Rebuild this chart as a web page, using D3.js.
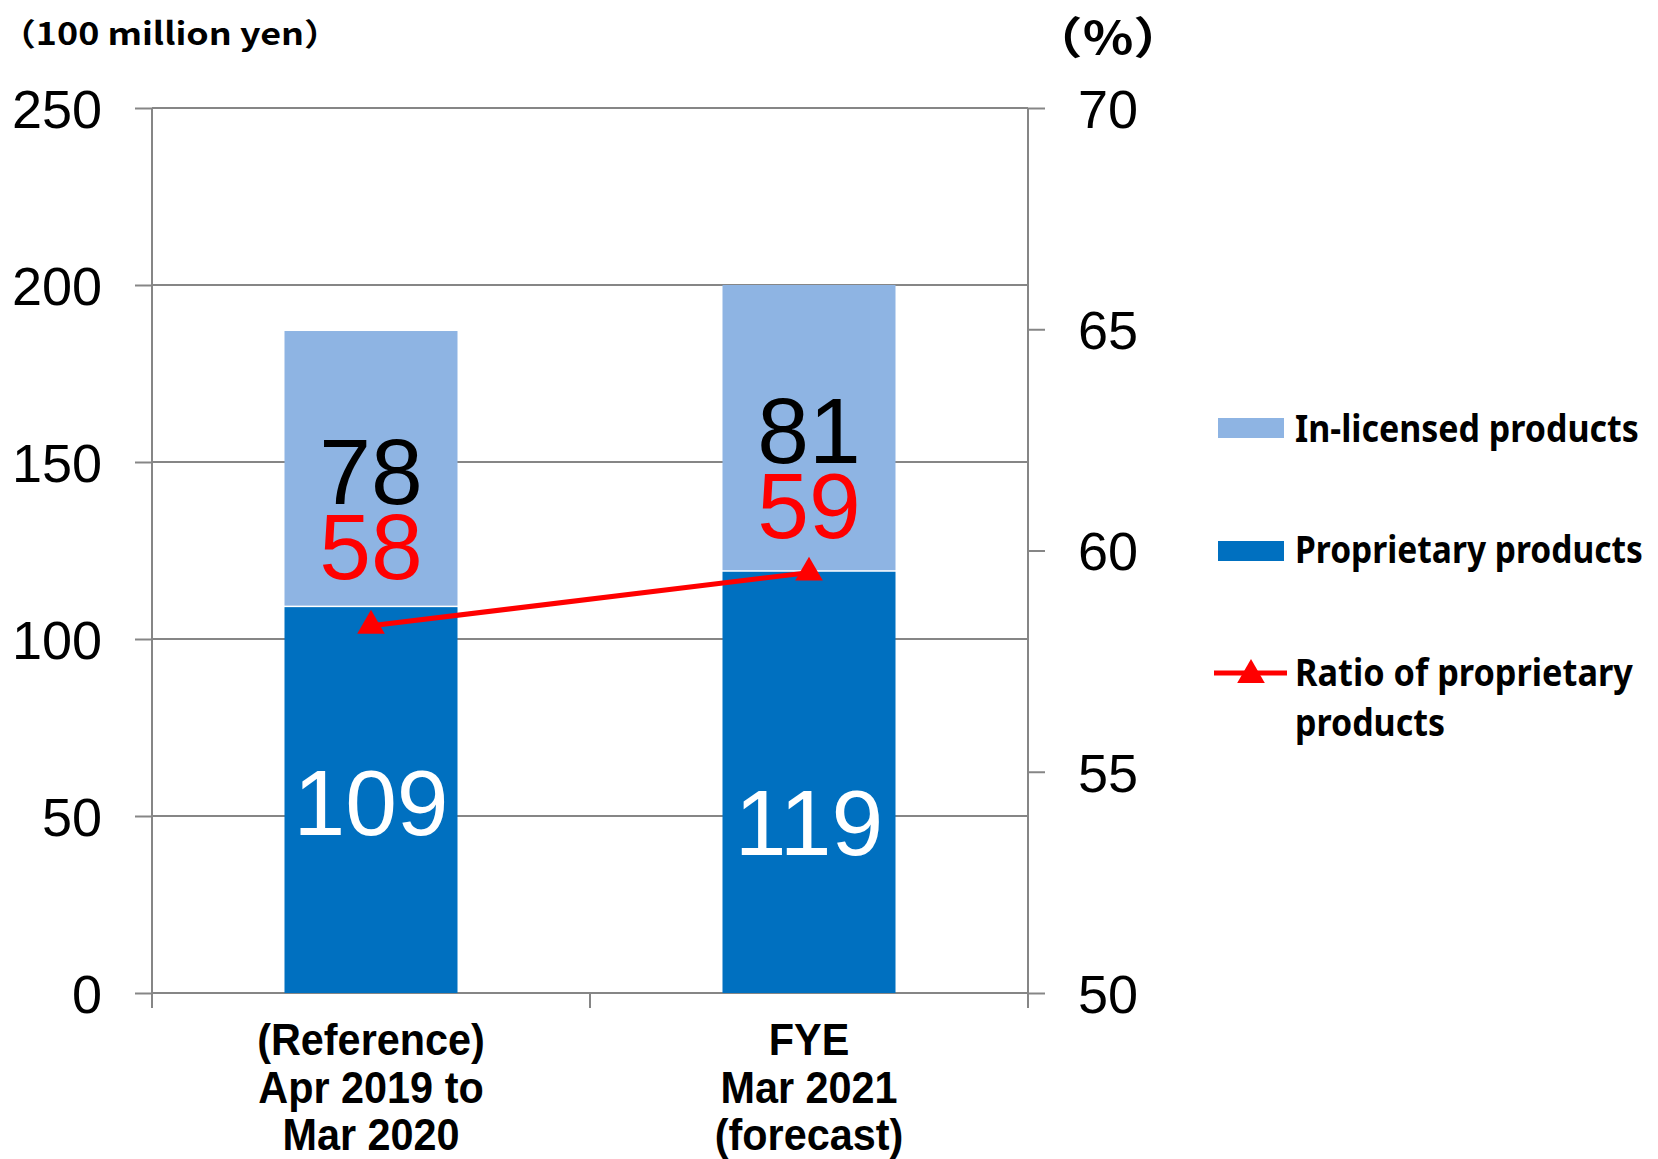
<!DOCTYPE html>
<html><head><meta charset="utf-8">
<script src="https://cdn.jsdelivr.net/npm/d3@7"></script>
<style>
html,body{margin:0;padding:0;background:#fff;}
svg{display:block;}
</style>
</head><body>
<svg id="chart" width="1658" height="1159"></svg>
<script>
// ---- data ----
const categories = ["ref", "fye"];
const categoryLines = [["(Reference)", "Apr 2019 to", "Mar 2020"], ["FYE", "Mar 2021", "(forecast)"]];
const proprietary = [109, 119];
const inLicensed = [78, 81];
const ratio = [58.3, 59.5];
const ratioLabels = ["58", "59"];
const leftTicks = [0, 50, 100, 150, 200, 250];
const rightTicks = [50, 55, 60, 65, 70];
const legendLabels = ["In-licensed products", "Proprietary products", ["Ratio of proprietary", "products"]];
const leftUnit = "（100 million yen）";
const rightUnit = "（%）";

// ---- layout ----
const W = 1658, H = 1159;
const L = 152, R = 1028, T = 108, B = 993;
const C_DARK = "#0070C0", C_LIGHT = "#8EB4E3", C_RED = "#FF0000", C_GRID = "#868686";
const innerLabelDy = [0, 38];
const catBaselines = [1055, 1103, 1150];

const svg = d3.select("#chart");

const x = d3.scaleBand().domain(categories).range([L, R]).paddingInner(0.605).paddingOuter(0.3025);
const y = d3.scaleLinear().domain([0, 250]).range([B, T]);
const y2 = d3.scaleLinear().domain([50, 70]).range([B, T]);

// gridlines
svg.append("g").selectAll("line").data(leftTicks).join("line")
  .attr("x1", L).attr("x2", R).attr("y1", d => y(d)).attr("y2", d => y(d))
  .attr("stroke", C_GRID).attr("stroke-width", 2);

// bars
const rows = categories.map((c, i) => ({c, p: proprietary[i], l: inLicensed[i], r: ratio[i], rl: ratioLabels[i], i}));
const bars = svg.append("g");
bars.selectAll("rect.dark").data(rows).join("rect").attr("class", "dark")
  .attr("x", d => x(d.c)).attr("width", x.bandwidth())
  .attr("y", d => y(d.p)).attr("height", d => y(0) - y(d.p))
  .attr("fill", C_DARK);
bars.selectAll("rect.light").data(rows).join("rect").attr("class", "light")
  .attr("x", d => x(d.c)).attr("width", x.bandwidth())
  .attr("y", d => y(d.p + d.l)).attr("height", d => y(d.p) - y(d.p + d.l) - 1.5)
  .attr("fill", C_LIGHT);

// axes
const axL = d3.axisLeft(y).tickValues(leftTicks).tickSize(17).tickSizeOuter(0).tickPadding(33);
const gL = svg.append("g").attr("transform", `translate(${L},0)`).call(axL);
const axR = d3.axisRight(y2).tickValues(rightTicks).tickSize(17).tickSizeOuter(0).tickPadding(33);
const gR = svg.append("g").attr("transform", `translate(${R},0)`).call(axR);
[gL, gR].forEach(g => {
  g.select(".domain").remove();
  g.selectAll(".tick line").attr("stroke", C_GRID).attr("stroke-width", 2);
  g.selectAll(".tick text").attr("fill", "#000")
    .style("font-family", "'Liberation Sans', Arial, sans-serif").style("font-size", "54px")
    .attr("dy", "0.36em");
});
// vertical axis lines
[L, R].forEach(xx => svg.append("line").attr("x1", xx).attr("x2", xx).attr("y1", T).attr("y2", B + 15)
  .attr("stroke", C_GRID).attr("stroke-width", 2));
// category boundary ticks
const bounds = [L].concat(categories.map(c => x(c) - x.step() * x.paddingInner() / 2 + x.step()));
svg.append("g").selectAll("line").data(bounds).join("line")
  .attr("x1", d => d).attr("x2", d => d).attr("y1", B).attr("y2", B + 15)
  .attr("stroke", C_GRID).attr("stroke-width", 2);

// category labels
const cl = svg.append("g").style("font-family", "'Liberation Sans', Arial, sans-serif")
  .style("font-size", "45px").style("font-weight", "bold");
categories.forEach((c, i) => {
  categoryLines[i].forEach((t, j) => {
    cl.append("text").attr("text-anchor", "middle")
      .attr("transform", `translate(${x(c) + x.bandwidth() / 2},${catBaselines[j]}) scale(0.92,1)`)
      .text(t);
  });
});

// ratio line
const line = d3.line().x(d => x(d.c) + x.bandwidth() / 2).y(d => y2(d.r));
svg.append("path").datum(rows).attr("d", line).attr("fill", "none")
  .attr("stroke", C_RED).attr("stroke-width", 5);
svg.append("g").selectAll("path").data(rows).join("path")
  .attr("d", d3.symbol(d3.symbolTriangle, 330))
  .attr("transform", d => `translate(${x(d.c) + x.bandwidth() / 2},${y2(d.r)})`)
  .attr("fill", C_RED);

// data labels
const lab = svg.append("g").style("font-family", "'Liberation Sans', Arial, sans-serif")
  .style("font-size", "93px").attr("text-anchor", "middle");
lab.selectAll("text.inl").data(rows).join("text").attr("class", "inl")
  .attr("x", d => x(d.c) + x.bandwidth() / 2).attr("y", d => y(d.p + d.l / 2) + 35)
  .attr("fill", "#000").text(d => d.l);
lab.selectAll("text.rat").data(rows).join("text").attr("class", "rat")
  .attr("x", d => x(d.c) + x.bandwidth() / 2).attr("y", d => y(d.p + d.l / 2) + 110)
  .attr("fill", C_RED).text(d => d.rl);
lab.selectAll("text.prop").data(rows).join("text").attr("class", "prop")
  .attr("x", d => x(d.c) + x.bandwidth() / 2).attr("y", d => y(d.p / 2) + 35 + innerLabelDy[d.i])
  .attr("fill", "#fff").text(d => d.p);

// helper: place text at (x, baseline) and squeeze horizontally to a target width
function fitText(g, str, px, py, target) {
  const t = g.append("text").attr("x", 0).attr("y", 0).text(str);
  const w = t.node().getComputedTextLength();
  const k = Math.min(1, target / w);
  t.attr("transform", `translate(${px},${py}) scale(${k},1)`);
  return t;
}

// unit labels
const u1 = svg.append("g").style("font-family", "'Noto Sans CJK JP', sans-serif").style("font-weight", "bold").style("font-size", "31px");
u1.append("text").attr("x", 0).attr("y", 45).text(leftUnit)
  .attr("transform", null);
(function () {
  const t = u1.select("text");
  const w = t.node().getComputedTextLength();
  const k = 340 / w;
  t.attr("x", 0).attr("y", 0).attr("transform", `translate(0,45) scale(${k},1)`);
})();
const u2 = svg.append("g").style("font-family", "'Noto Sans CJK JP', sans-serif").style("font-weight", "bold").style("font-size", "44px");
(function () {
  const t = u2.append("text").attr("x", 0).attr("y", 0).text(rightUnit);
  const w = t.node().getComputedTextLength();
  const k = 156 / w;
  t.attr("transform", `translate(1030,54) scale(${k},1)`);
})();

// legend
const lg = svg.append("g").style("font-family", "'Noto Sans', sans-serif").style("font-weight", "bold").style("font-size", "38px");
lg.append("rect").attr("x", 1218).attr("y", 418).attr("width", 66).attr("height", 20).attr("fill", C_LIGHT);
fitText(lg, legendLabels[0], 1295, 442, 344);
lg.append("rect").attr("x", 1218).attr("y", 541).attr("width", 66).attr("height", 20).attr("fill", C_DARK);
fitText(lg, legendLabels[1], 1295, 563, 348);
lg.append("line").attr("x1", 1214).attr("x2", 1287).attr("y1", 673).attr("y2", 673).attr("stroke", C_RED).attr("stroke-width", 5);
lg.append("path").attr("d", d3.symbol(d3.symbolTriangle, 330)).attr("transform", "translate(1251,675)").attr("fill", C_RED);
fitText(lg, legendLabels[2][0], 1295, 686, 338);
fitText(lg, legendLabels[2][1], 1295, 736, 150);
</script>
</body></html>
